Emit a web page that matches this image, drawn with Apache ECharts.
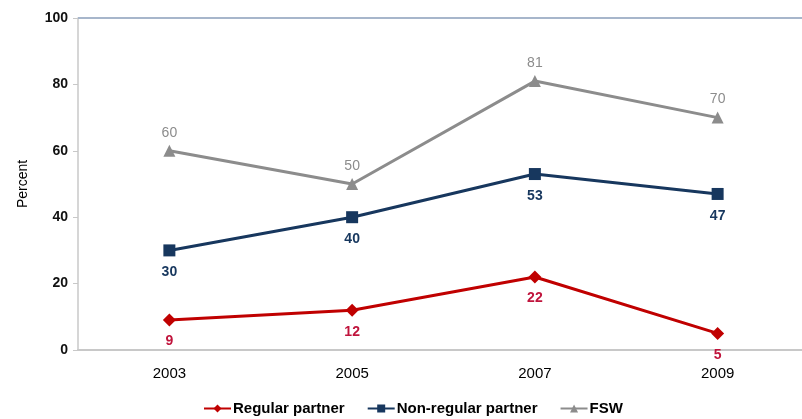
<!DOCTYPE html>
<html>
<head>
<meta charset="utf-8">
<script src="https://cdn.jsdelivr.net/npm/echarts@6/dist/echarts.min.js"></script>
<style>
html, body { margin: 0; padding: 0; background: #fff; }
#chart { width: 802px; height: 419px; }
</style>
</head>
<body>
<div id="chart"></div>
<script>
var myChart = echarts.init(document.getElementById('chart'), null, { renderer: 'canvas' });

const years = ['2003', '2005', '2007', '2009'];
const regular = [9, 12, 22, 5];
const nonRegular = [30, 40, 53, 47];
const fsw = [60, 50, 81, 70];

const red = '#C00000';
const blue = '#17375E';
const gray = '#8C8C8C';
const font = 'Liberation Sans, Arial, sans-serif';

function line(name, data, color, symbol, size, labelPos, labelColor, weight, dist) {
  return {
    name: name,
    type: 'line',
    data: data,
    symbol: symbol,
    symbolSize: size,
    lineStyle: { color: color, width: 3 },
    itemStyle: { color: color },
    label: {
      show: true,
      position: labelPos,
      distance: dist,
      color: labelColor,
      fontFamily: font,
      fontWeight: weight,
      fontSize: 14
    }
  };
}

var option = {
  backgroundColor: '#fff',
  animation: false,
  grid: { left: 78, top: 18, right: -7, bottom: 69, outerBoundsMode: 'none' },
  legend: {
    bottom: 3,
    left: 203,
    padding: 0,
    itemGap: 22,
    itemWidth: 27,
    itemHeight: 10,
    textStyle: { fontFamily: font, fontSize: 15, fontWeight: 'bold', color: '#000', padding: [0, 0, 0, -3] },
    data: ['Regular partner', 'Non-regular partner', 'FSW']
  },
  xAxis: {
    type: 'category',
    data: years,
    boundaryGap: true,
    axisLine: { lineStyle: { color: '#C8C8C8', width: 2 } },
    axisTick: { show: false },
    axisLabel: { color: '#000', fontFamily: font, fontSize: 15, margin: 16 }
  },
  yAxis: {
    type: 'value',
    min: 0,
    max: 100,
    interval: 20,
    name: 'Percent',
    nameLocation: 'middle',
    nameGap: 48,
    nameTextStyle: { color: '#000', fontFamily: font, fontSize: 14 },
    axisLine: { show: true, lineStyle: { color: '#C8C8C8', width: 1.5 } },
    axisTick: { show: true, inside: false, length: 5, lineStyle: { color: '#C8C8C8' } },
    splitLine: { show: false },
    axisLabel: { color: '#111', fontFamily: font, fontSize: 14, fontWeight: 'bold', margin: 10 }
  },
  series: [
    line('Regular partner', regular, red, 'diamond', 13, 'bottom', '#C0143C', 'bold', 8),
    line('Non-regular partner', nonRegular, blue, 'rect', 12, 'bottom', blue, 'bold', 9),
    line('FSW', fsw, gray, 'triangle', 12, 'top', gray, 'normal', 5),
    {
      type: 'line',
      data: [],
      markLine: {
        silent: true,
        symbol: 'none',
        label: { show: false },
        lineStyle: { color: '#A7B6CB', width: 2, type: 'solid' },
        data: [{ yAxis: 100 }]
      }
    }
  ]
};

myChart.setOption(option);
window.addEventListener('resize', myChart.resize);
</script>
</body>
</html>
